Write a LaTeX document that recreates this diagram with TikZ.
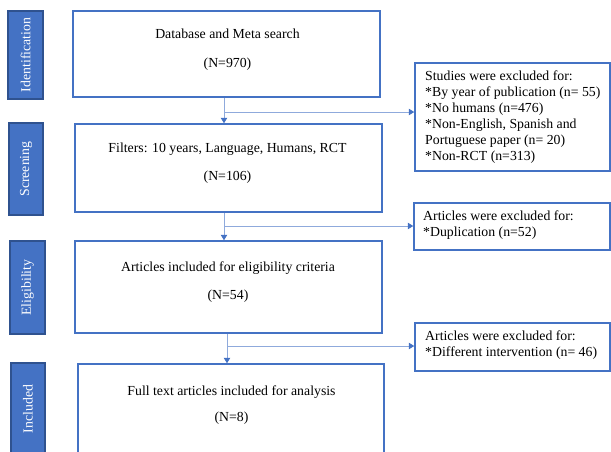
\documentclass[tikz,border=0pt]{standalone}
\usepackage{fontspec}
\setmainfont{Liberation Serif}
\usetikzlibrary{arrows.meta}
\definecolor{boxblue}{HTML}{4472C4}
\definecolor{darkblue}{HTML}{2F528F}
\definecolor{lineblue}{HTML}{8FAADC}
\begin{document}
\begin{tikzpicture}[x=1pt,y=-1pt,
  font=\fontsize{13.8}{16}\selectfont,
  mainbox/.style={draw=boxblue, line width=1.5pt, fill=white, inner sep=0pt},
  exbox/.style={draw=boxblue, line width=1.5pt, fill=white, inner sep=0pt},
  sidebox/.style={draw=darkblue, fill=boxblue, line width=1.2pt, text=white, rotate=90, inner sep=0pt},
  maintext/.style={align=center, inner sep=0pt},
  extext/.style={align=left, anchor=west, inner sep=0pt},
  conn/.style={draw=lineblue, line width=1pt, -{Triangle[width=6.5pt,length=5.5pt,color=boxblue]}}
]
\useasboundingbox (0,0) rectangle (611,451);
\clip (0,0) rectangle (611,451);

% side labels
\node[sidebox, minimum width=88pt, minimum height=35pt] (s1) at (25.5,55) {Identification};
\node[sidebox, minimum width=92pt, minimum height=34pt] (s2) at (26,169) {Screening};
\node[sidebox, minimum width=93pt, minimum height=35pt] (s3) at (27.5,287.5) {Eligibility};
\node[sidebox, minimum width=92pt, minimum height=34pt] (s4) at (28,409) {Included};

% main boxes
\node[mainbox, minimum width=307pt, minimum height=86pt] (b1) at (226.5,54) {};
\node[mainbox, minimum width=307pt, minimum height=88pt] (b2) at (228.5,168) {};
\node[mainbox, minimum width=307pt, minimum height=92pt] (b3) at (228.5,287) {};
\node[mainbox, minimum width=306pt, minimum height=92pt] (b4) at (231,410) {};

\node[maintext] (t1) at (227.5,49.5) {Database and Meta search\\[13pt](N=970)};
\node[maintext] (t2) at (227.5,163) {Filters: 10 years, Language, Humans, RCT\\[12pt](N=106)};
\node[maintext] (t3) at (228,282) {Articles included for eligibility criteria\\[12pt](N=54)};
\node[maintext] (t4) at (231.5,405) {Full text articles included for analysis\\[10pt](N=8)};

% exclusion boxes
\node[exbox, minimum width=195pt, minimum height=108pt] (e1) at (512.5,117) {};
\node[exbox, minimum width=196pt, minimum height=47pt] (e2) at (512,226.5) {};
\node[exbox, minimum width=195pt, minimum height=48pt] (e3) at (512.5,347) {};

\node[extext] (x1) at (425,117) {Studies were excluded for:\\*By year of publication (n= 55)\\*No humans (n=476)\\*Non-English, Spanish and\\Portuguese paper (n= 20)\\*Non-RCT (n=313)};
\node[extext] (x2) at (423,225) {Articles were excluded for:\\*Duplication (n=52)};
\node[extext] (x3) at (425,345) {Articles were excluded for:\\*Different intervention (n= 46)};

% connectors
\coordinate (j1) at (224,112);
\coordinate (j2) at (224,226);
\coordinate (j3) at (227,346);
\draw[conn] (j1 |- b1.south) -- (j1 |- b2.north);
\draw[conn] (j1) -- (j1 -| e1.west);
\draw[conn] (j2 |- b2.south) -- (j2 |- b3.north);
\draw[conn] (j2) -- (j2 -| e2.west);
\draw[conn] (j3 |- b3.south) -- (j3 |- b4.north);
\draw[conn] (j3) -- (j3 -| e3.west);
\end{tikzpicture}
\end{document}
